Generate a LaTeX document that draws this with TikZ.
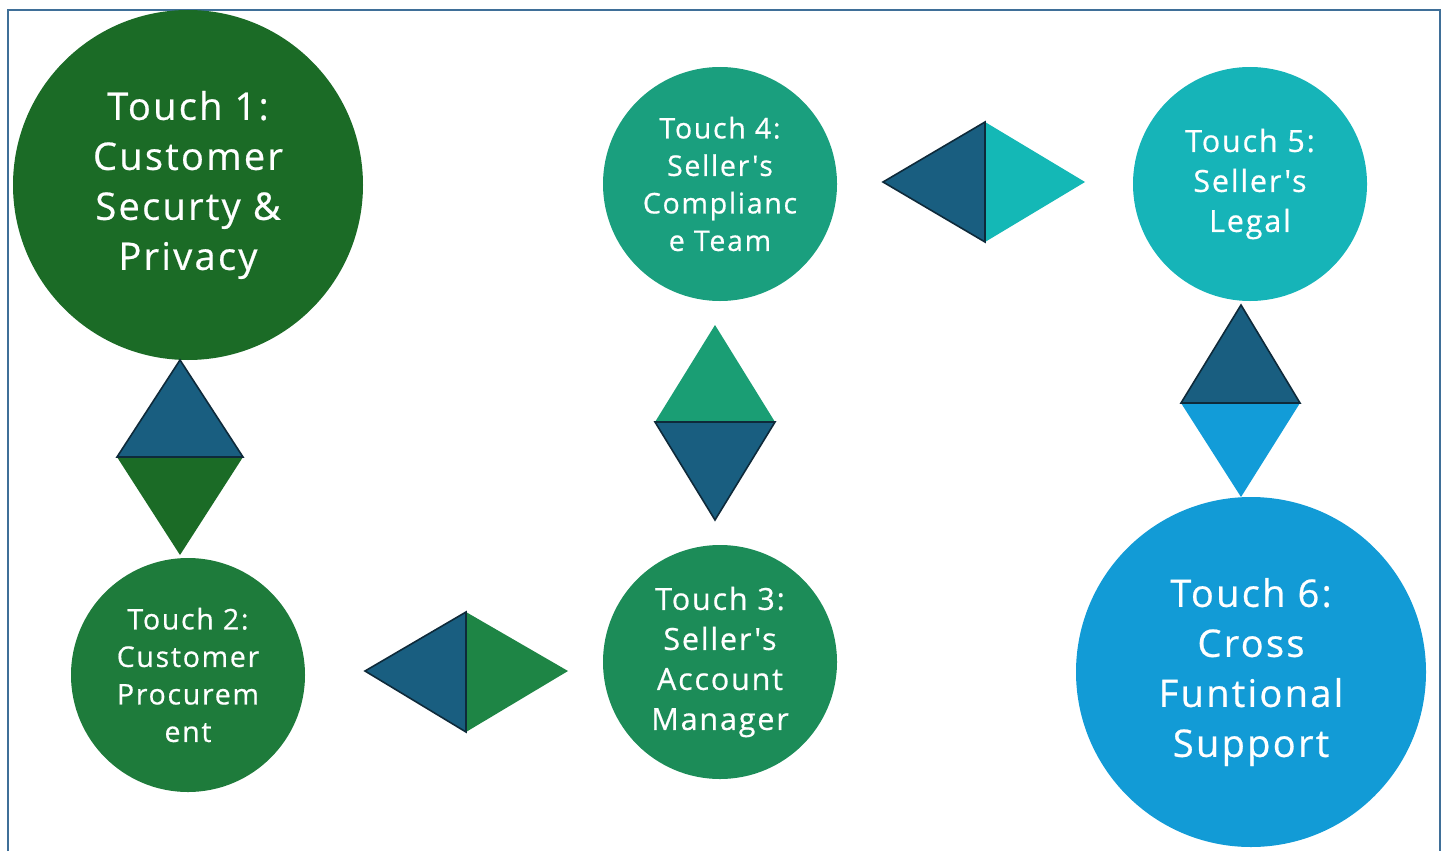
\documentclass[tikz,border=0pt]{standalone}
\usepackage{fontspec}
\newfontfamily\touchfont[LetterSpace=6,FakeBold=0.6]{Open Sans}
\definecolor{cA}{HTML}{1B6B26}
\definecolor{cB}{HTML}{1E7B3B}
\definecolor{cC}{HTML}{1C8C58}
\definecolor{cD}{HTML}{1A9F7E}
\definecolor{cE}{HTML}{16B4B8}
\definecolor{cF}{HTML}{129BD6}
\definecolor{dblue}{HTML}{195E80}
\definecolor{edge}{HTML}{0E2A3A}
\definecolor{tgA}{HTML}{1E8545}
\definecolor{tgB}{HTML}{1A9E74}
\definecolor{tgC}{HTML}{14B8B6}
\definecolor{tgD}{HTML}{129CD8}
\definecolor{frame}{HTML}{3F6F98}
\begin{document}
\begin{tikzpicture}[x=1pt,y=-1pt,
  touch/.style={circle,inner sep=0pt,text=white,align=center},
  big/.style={touch,minimum size=350pt,font=\touchfont\fontsize{38}{50}\selectfont},
  small/.style={touch,minimum size=234pt,font=\touchfont\fontsize{28.5}{37.5}\selectfont},
  mid/.style={touch,minimum size=234pt,font=\touchfont\fontsize{30.5}{40}\selectfont},
  bluetri/.style={fill=dblue,draw=edge,line width=1.6pt,line join=miter},
]
\useasboundingbox (0,0) rectangle (1450,851);
\draw[frame,line width=1.5pt] (8,851) -- (8,10) -- (1440,10) -- (1440,851);

\node[big,fill=cA] (t1) at (188,185) {Touch 1:\\Customer\\Securty \&\\Privacy};
\node[small,fill=cB] (t2) at (188,675) {Touch 2:\\Customer\\Procurem\\ent};
\node[mid,fill=cC] (t3) at (720,662) {Touch 3:\\Seller's\\Account\\Manager};
\node[small,fill=cD] (t4) at (720,184) {Touch 4:\\Seller's\\Complianc\\e Team};
\node[mid,fill=cE] (t5) at (1250,184) {Touch 5:\\Seller's\\Legal};
\node[big,fill=cF] (t6) at (1251,672) {Touch 6:\\Cross\\Funtional\\Support};

% connector t1 - t2
\fill[cA] (117,457) -- (243,457) -- (180,555) -- cycle;
\draw[bluetri] (180,360) -- (243,457) -- (117,457) -- cycle;
% connector t2 - t3
\fill[tgA] (466,612) -- (568,671) -- (466,732) -- cycle;
\draw[bluetri] (466,612) -- (365,671) -- (466,732) -- cycle;
% connector t3 - t4
\fill[tgB] (715,325) -- (775,422) -- (655,422) -- cycle;
\draw[bluetri] (655,422) -- (775,422) -- (715,520) -- cycle;
% connector t4 - t5
\fill[tgC] (985,122) -- (1085,182) -- (985,242) -- cycle;
\draw[bluetri] (985,122) -- (883,182) -- (985,242) -- cycle;
% connector t5 - t6
\fill[tgD] (1181,403) -- (1300,403) -- (1241,497) -- cycle;
\draw[bluetri] (1241,305) -- (1300,403) -- (1181,403) -- cycle;
\end{tikzpicture}
\end{document}
